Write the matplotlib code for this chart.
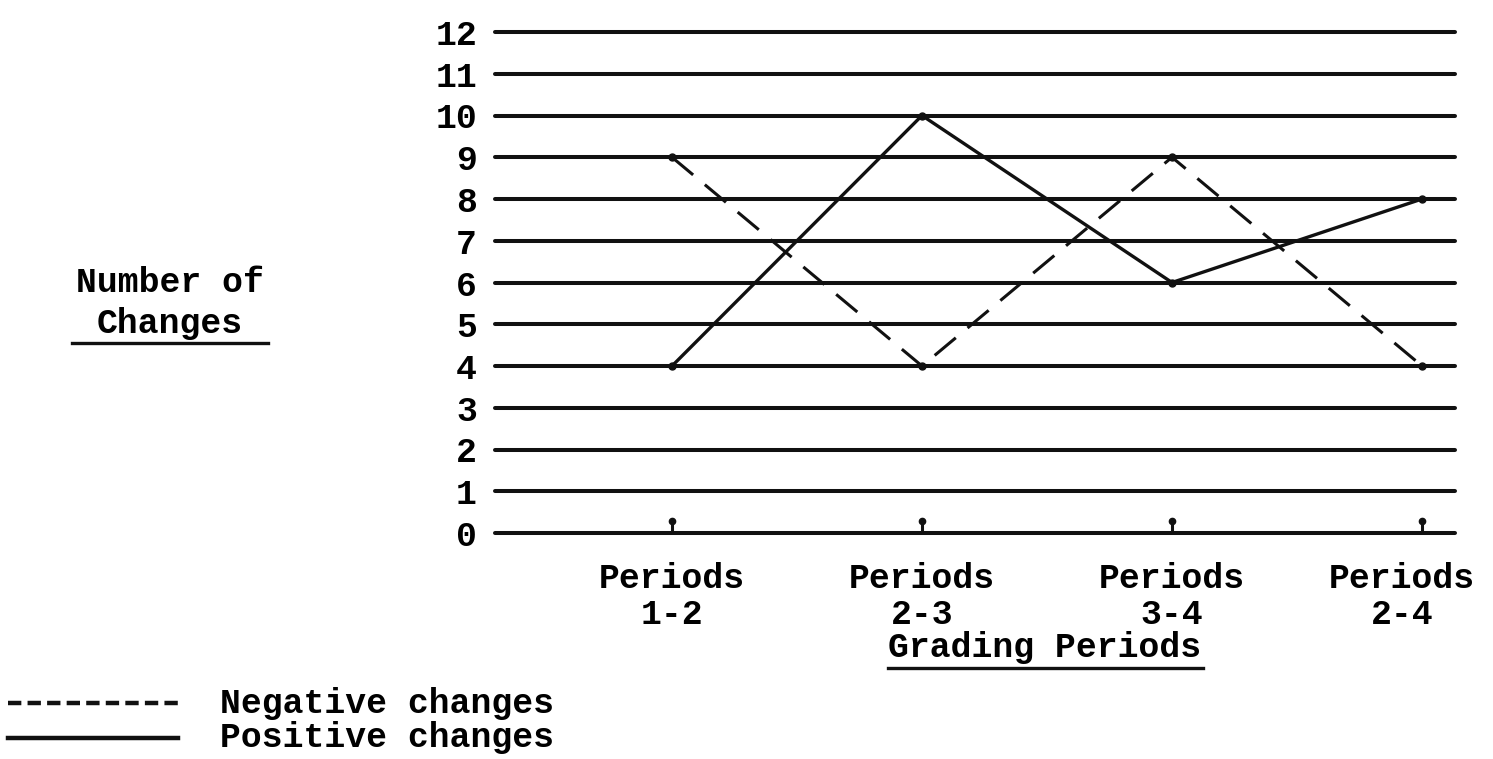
import matplotlib

matplotlib.use("Agg")
import matplotlib.pyplot as plt
import matplotlib.transforms as mtransforms
from matplotlib.lines import Line2D

# values
periods = ["Periods\n1-2", "Periods\n2-3", "Periods\n3-4", "Periods\n2-4"]
negative_changes = [9, 4, 9, 4]
positive_changes = [4, 10, 6, 8]
y_levels = list(range(0, 13))

INK = "#111111"
FS = 25

plt.rcParams["font.family"] = ["Liberation Mono", "DejaVu Sans Mono"]
plt.rcParams["font.weight"] = "bold"

W, H = 1493, 759
fig = plt.figure(figsize=(W / 100, H / 100), dpi=100)
# axes box in pixel terms: x 495..1455, y 533 (0) .. 32 (12)
ax = fig.add_axes([495 / W, (H - 533) / H, (1455 - 495) / W, (533 - 32) / H])

x = list(range(len(periods)))
ax.set_xlim(-0.708, 3.132)
ax.set_ylim(0, 12)

for level in y_levels:
    ax.axhline(level, color=INK, lw=2.9, clip_on=False, solid_capstyle="round")

ax.plot(x, negative_changes, color=INK, lw=2.2, dashes=(9, 5), marker="o",
        markersize=5, clip_on=False)
ax.plot(x, positive_changes, color=INK, lw=2.4, marker="o", markersize=5,
        clip_on=False)

# little pins on the zero line under each period
ax.vlines(x, 0, 0.28, color=INK, lw=2.2, clip_on=False)
ax.plot(x, [0.28] * len(x), "o", color=INK, markersize=4.5, clip_on=False)

for side in ax.spines.values():
    side.set_visible(False)
ax.set_yticks(y_levels)
ax.set_yticklabels([str(v) for v in y_levels], fontsize=FS, fontweight="bold")
ax.tick_params(axis="y", length=0, pad=13)
ax.set_xticks(x)
ax.set_xticklabels(periods, fontsize=FS, fontweight="bold", linespacing=1.12)
ax.tick_params(axis="x", length=0, pad=21)
# last label sits a bit left of its point in the original
last = ax.get_xticklabels()[-1]
last.set_transform(last.get_transform()
                   + mtransforms.ScaledTranslation(-20 / 100, 0, fig.dpi_scale_trans))

fig.text(170 / W, 1 - 282 / H, "Number of", ha="center", va="center",
         fontsize=FS, fontweight="bold")
fig.text(170 / W, 1 - 324 / H, "Changes", ha="center", va="center",
         fontsize=FS, fontweight="bold")
fig.add_artist(Line2D([72 / W, 268 / W], [1 - 343 / H, 1 - 343 / H], color=INK, lw=2.4))

fig.text(1045 / W, 1 - 648 / H, "Grading Periods", ha="center", va="center",
         fontsize=FS, fontweight="bold")
fig.add_artist(Line2D([888 / W, 1203 / W], [1 - 668 / H, 1 - 668 / H], color=INK, lw=2.4))

# hand-typed legend
fig.add_artist(Line2D([8 / W, 178 / W], [1 - 703 / H, 1 - 703 / H], color=INK,
                      lw=3.2, dashes=(3, 1.4)))
fig.add_artist(Line2D([8 / W, 178 / W], [1 - 738 / H, 1 - 738 / H], color=INK, lw=3.2))
fig.text(220 / W, 1 - 703 / H, "Negative changes", ha="left", va="center",
         fontsize=FS, fontweight="bold")
fig.text(220 / W, 1 - 738 / H, "Positive changes", ha="left", va="center",
         fontsize=FS, fontweight="bold")

fig.savefig("out.png", dpi=100, facecolor="white")
plt.close(fig)
